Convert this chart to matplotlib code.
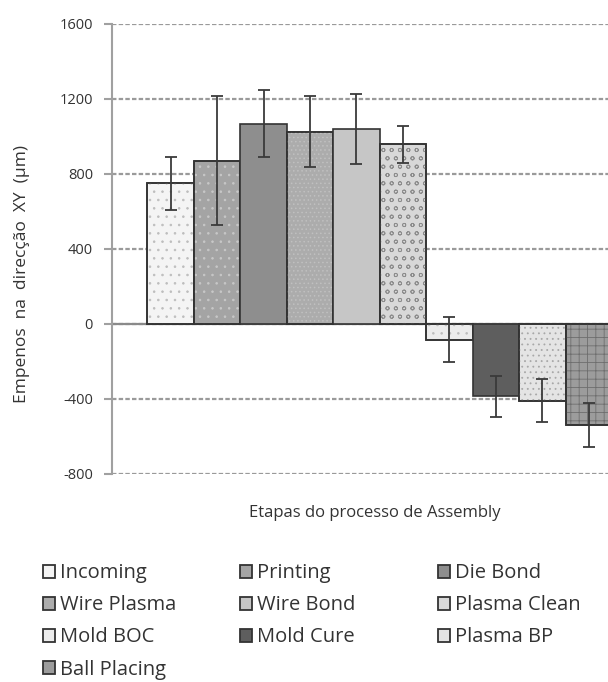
import numpy as np
import matplotlib
matplotlib.use('Agg')
import matplotlib.pyplot as plt
from matplotlib.patches import Patch

plt.rcParams['font.family'] = ['Open Sans', 'DejaVu Sans']
plt.rcParams['hatch.linewidth'] = 0.6
plt.rcParams['axes.unicode_minus'] = False

# dados
etapas = ['Incoming', 'Printing', 'Die Bond', 'Wire Plasma', 'Wire Bond',
          'Plasma Clean', 'Mold BOC', 'Mold Cure', 'Plasma BP', 'Ball Placing']
empenos = [750, 870, 1068, 1025, 1040, 958, -83, -385, -410, -540]
erros = [140, 345, 180, 188, 187, 100, 118, 110, 114, 117]

cores = ['#f4f4f4', '#a4a4a4', '#8e8e8e', '#acacac', '#c6c6c6',
         '#d8d8d8', '#ececec', '#5e5e5e', '#e4e4e4', '#9c9c9c']
padroes = ['..', '..', None, '....', None, 'oo', '..', None, '...', '++']
cor_padrao = ['#bdbdbd', '#c8c8c8', None, '#c0c0c0', None,
              '#8c8c8c', '#bdbdbd', None, '#a8a8a8', '#6e6e6e']

fig = plt.figure(figsize=(6.08, 6.82), dpi=100)
ax = fig.add_axes([0.185, 0.305, 0.879, 0.66])

x = np.arange(len(etapas))
handles = []
for i in range(len(etapas)):
    ax.bar(x[i], empenos[i], width=1.0, color=cores[i], edgecolor='#333333',
           linewidth=1.2, zorder=3)
    if padroes[i]:
        ax.bar(x[i], empenos[i], width=1.0, color='none', edgecolor=cor_padrao[i],
               hatch=padroes[i], linewidth=0, zorder=3)
        ax.bar(x[i], empenos[i], width=1.0, color='none', edgecolor='#333333',
               linewidth=1.2, zorder=3)
    handles.append(Patch(facecolor=cores[i], edgecolor='#333333', linewidth=1.3))

ax.errorbar(x, empenos, yerr=erros, fmt='none', ecolor='#3a3a3a', elinewidth=1.3,
            capsize=4, capthick=1.3, zorder=4)

ax.set_ylim(-800, 1600)
ax.set_yticks(np.arange(-800, 1601, 400))
ax.set_xlim(-1.25, 10.25)
ax.set_xticks([])
ax.grid(axis='y', color='#9a9a9a', linestyle=(0, (2, 1)), linewidth=1.6, zorder=0)
ax.axhline(0, color='#8a8a8a', linewidth=1.6, zorder=2)
for s in ['top', 'right', 'bottom']:
    ax.spines[s].set_visible(False)
ax.spines['left'].set_color('#a0a0a0')
ax.spines['left'].set_linewidth(1.5)
ax.tick_params(axis='y', length=6, width=1.5, color='#a0a0a0', labelsize=10.5,
               labelcolor='#333333', pad=8)

fig.text(0.036, 0.598, 'Empenos  na  direcção  XY  (µm)', rotation=90,
         ha='center', va='center', fontsize=12.5, color='#333333')
fig.text(0.617, 0.248, 'Etapas do processo de Assembly', ha='center', va='center',
         fontsize=12, color='#333333')

# legenda em três colunas, preenchida por linhas
colunas_x = [43 / 608, 240 / 608, 438 / 608]
for c in range(3):
    idx = list(range(c, len(etapas), 3))
    fig.legend([handles[i] for i in idx], [etapas[i] for i in idx],
               loc='upper left', bbox_to_anchor=(colunas_x[c], 0.174),
               frameon=False, fontsize=14.5, handlelength=0.6, handleheight=0.6,
               handletextpad=0.25, labelspacing=0.6, borderaxespad=0,
               borderpad=0, labelcolor='#333333')

fig.savefig('out.png', dpi=100)
